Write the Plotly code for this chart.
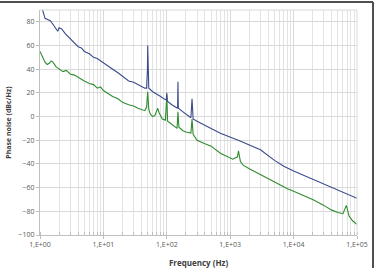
import plotly.graph_objects as go

# ---- data ----
blue_f = [1.0, 1.1, 1.2, 1.3, 1.45, 1.6, 1.8, 1.9, 2.0, 2.2, 2.5, 3.0, 3.5, 4.0, 4.5, 5.0, 6.0, 7.0, 8.0, 9.0,
          10, 12, 14, 17, 20, 25, 30, 35, 40, 45, 48, 49.5, 50, 50.5, 52, 60, 70, 80, 90, 98, 100, 102,
          120, 140, 148, 150, 152, 180, 200, 240, 250, 260, 300, 400, 500, 700, 1000, 1500, 2000, 3000,
          5000, 7000, 10000, 20000, 30000, 50000, 70000, 100000]
blue_db = [95, 90, 83, 82, 81, 78, 74, 72, 75, 74, 70, 66, 62, 59, 58, 55, 53, 50, 49, 47,
           45, 42, 40, 37, 34, 30, 29, 27, 25, 24, 24, 40, 60, 35, 24, 21, 19, 17, 15, 14, 20, 13,
           10, 8, 7, 29.5, 7, 4, 2, -1, 15, -2, -4, -7, -10, -14, -17, -21, -24, -28,
           -37, -42, -46, -53, -57, -62, -66, -69]

green_f = [1.0, 1.1, 1.2, 1.3, 1.4, 1.5, 1.6, 1.8, 2.0, 2.3, 2.6, 3.0, 3.5, 4.0, 5.0, 6.0, 7.0, 8.0, 9.0,
           10, 12, 14, 17, 20, 25, 30, 35, 40, 45, 48, 50, 52, 55, 60, 65, 72, 76, 85, 95, 100, 103,
           110, 130, 145, 150, 155, 180, 200, 240, 250, 260, 300, 400, 500, 700, 900, 1100, 1300, 1350,
           1450, 1600, 2000, 3000, 4000, 6000, 8000, 10000, 15000, 20000, 30000, 40000, 50000, 60000, 68000,
           75000, 85000, 100000]
green_db = [55, 50, 46, 44, 45, 47, 46, 42, 40, 38, 39, 36, 35, 33, 30, 28, 27, 24, 25,
            22, 19, 17, 15, 12, 10, 9, 7, 6, 5, 8, 21, 6, 2, 0, 1, 7, 3, -2, -3, 18, -4,
            -5, -8, -10, 4, -9, -12, -13, -14, -2, -15, -20, -23, -25, -31, -34, -36, -34, -29,
            -38, -41, -44, -49, -52, -57, -61, -63, -67, -70, -75, -79, -81, -82, -75,
            -84, -88, -91]

x_tick_vals = [1, 10, 100, 1000, 10000, 100000]
x_tick_text = ["1,E+00", "1,E+01", "1,E+02", "1,E+03", "1,E+04", "1,E+05"]
y_tick_vals = [80, 60, 40, 20, 0, -20, -40, -60, -80, -100]

fig = go.Figure()
fig.add_trace(go.Scatter(x=green_f, y=green_db, mode="lines",
                         line=dict(color="#2E8B2E", width=1.1), showlegend=False))
fig.add_trace(go.Scatter(x=blue_f, y=blue_db, mode="lines",
                         line=dict(color="#3A4A8C", width=1.1), showlegend=False))

font = "Open Sans"
fig.update_layout(
    width=377, height=268,
    margin=dict(l=40, r=20, t=10, b=33),
    paper_bgcolor="white", plot_bgcolor="white",
    font=dict(family=font, size=7, color="#595959"),
    xaxis=dict(type="log", range=[0, 5], tickvals=x_tick_vals, ticktext=x_tick_text,
               automargin=False,
               showgrid=True, gridcolor="#D9D9D9", gridwidth=1,
               minor=dict(dtick="D1", showgrid=True, gridcolor="#E3E3E3", ticks="inside", ticklen=3,
                          tickcolor="#BFBFBF"),
               showline=True, linecolor="#BFBFBF", linewidth=1, mirror=False,
               ticks="outside", ticklen=3, tickcolor="#BFBFBF",
               tickfont=dict(size=7, color="#595959"),
               title=dict(text="<b>Frequency (Hz)</b>", font=dict(size=8, color="#404040"), standoff=12)),
    yaxis=dict(range=[-100, 90], tickvals=y_tick_vals, showgrid=True, gridcolor="#D9D9D9",
               automargin=False,
               zeroline=False, showline=True, linecolor="#BFBFBF", linewidth=1,
               ticks="outside", ticklen=3, tickcolor="#BFBFBF",
               tickfont=dict(size=7, color="#595959"),
               title=dict(text="<b>Phase noise (dBc/Hz)</b>", font=dict(size=7, color="#404040"), standoff=6)),
    shapes=[
        dict(type="line", xref="paper", yref="paper", x0=-0.3, x1=1.0505, y0=1.0356, y1=1.0356,
             line=dict(color="#505050", width=2)),
        dict(type="line", xref="paper", yref="paper", x0=1.0505, x1=1.0505, y0=-0.3, y1=1.0356,
             line=dict(color="#505050", width=2)),
        dict(type="line", xref="paper", yref="paper", x0=0, x1=1, y0=1, y1=1,
             line=dict(color="#D9D9D9", width=1)),
        dict(type="line", xref="paper", yref="paper", x0=1, x1=1, y0=0, y1=1,
             line=dict(color="#D9D9D9", width=1)),
    ],
)
fig.write_html("out.html")
